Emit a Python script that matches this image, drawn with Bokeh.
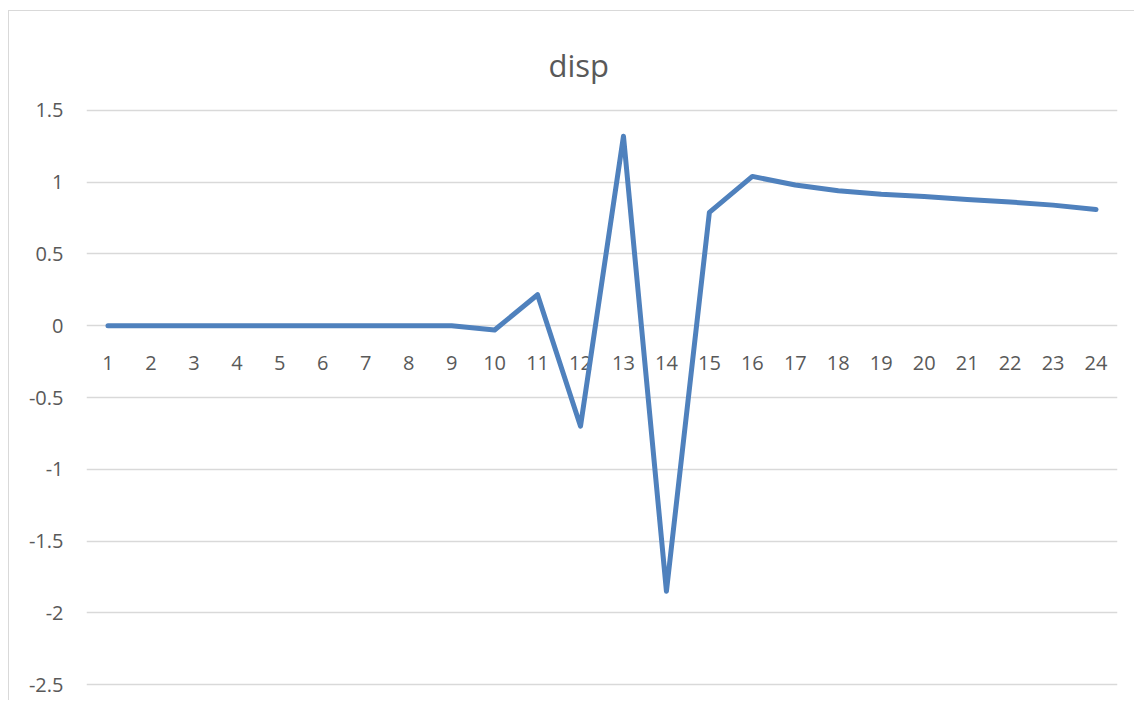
from bokeh.plotting import figure
from bokeh.models import Range1d, FixedTicker, Title, ColumnDataSource
from bokeh.core.properties import value
from bokeh.embed import file_html
from bokeh.resources import INLINE

# ---- data ----
categories = list(range(1, 25))
cat_labels = [str(c) for c in categories]
disp = [0, 0, 0, 0, 0, 0, 0, 0, 0, -0.03, 0.216, -0.70, 1.32, -1.85, 0.79, 1.04,
        0.98, 0.94, 0.915, 0.90, 0.88, 0.862, 0.84, 0.81]
y_ticks = [-2.5, -2, -1.5, -1, -0.5, 0, 0.5, 1, 1.5]
y_labels = ["-2.5", "-2", "-1.5", "-1", "-0.5", "0", "0.5", "1", "1.5"]
title_text = "disp"

FONT = "Open Sans"
TXT = "#595959"
GRID = "#D9D9D9"
LINE = "#4F81BD"

p = figure(width=1126, height=690, output_backend="svg", toolbar_location=None,
           x_range=Range1d(0.5, 24.5), y_range=Range1d(-2.52, 1.52),
           min_border_left=77, min_border_right=18, min_border_bottom=14,
           min_border_top=96)
p.styles = {"margin-left": "8px", "margin-top": "10px",
            "border-left": "1px solid #D9D9D9", "border-top": "1px solid #D9D9D9"}
p.outline_line_color = None
p.background_fill_color = "white"
p.border_fill_color = "white"

p.title = Title(text=title_text, align="left", text_font=FONT, text_font_size="31px",
                text_font_style="normal", text_color=TXT, offset=462, standoff=44)

# y axis
p.yaxis.ticker = FixedTicker(ticks=y_ticks)
p.yaxis.major_label_overrides = {float(t): l for t, l in zip(y_ticks, y_labels)}
p.yaxis.axis_line_color = None
p.yaxis.major_tick_line_color = None
p.yaxis.minor_tick_line_color = None
p.yaxis.major_tick_out = 0
p.yaxis.major_label_standoff = 23
p.yaxis.major_label_text_font = FONT
p.yaxis.major_label_text_font_size = "20px"
p.yaxis.major_label_text_color = TXT
p.ygrid.ticker = FixedTicker(ticks=y_ticks)
p.ygrid.grid_line_color = GRID
p.ygrid.grid_line_width = 1.5

# x axis hidden; category labels drawn just below the zero line
p.xaxis.visible = False
p.xgrid.visible = False

src = ColumnDataSource(dict(x=categories, y=disp, lab=cat_labels, zero=[0] * len(categories)))
p.text(x="x", y="zero", text="lab", source=src, y_offset=37, text_align="center",
       text_baseline="middle", text_font=value(FONT), text_font_size="20px", text_color=TXT)

p.line(x="x", y="y", source=src, line_color=LINE, line_width=5,
       line_join="round", line_cap="round")

open("out.html", "w").write(file_html(p, INLINE))
